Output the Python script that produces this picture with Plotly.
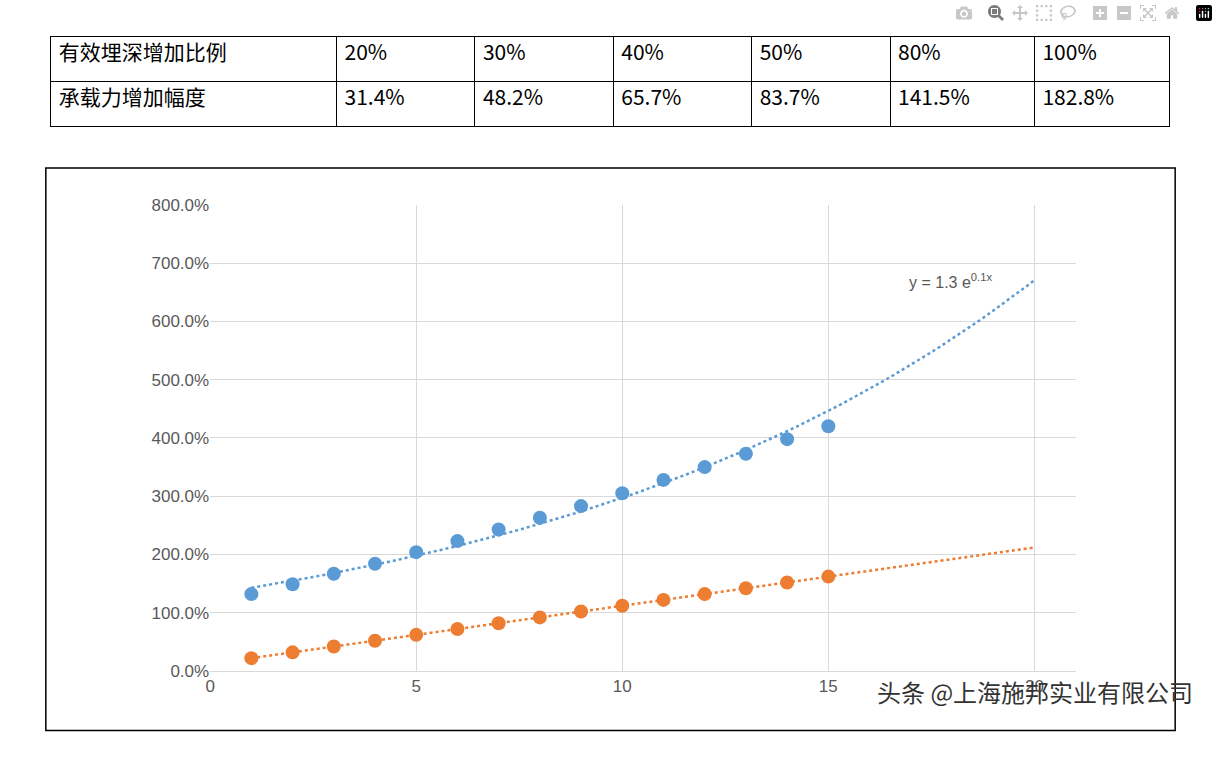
import numpy as np
import plotly.graph_objects as go

row_head = ["有效埋深增加比例", "20%", "30%", "40%", "50%", "80%", "100%"]
row_vals = ["承载力增加幅度", "31.4%", "48.2%", "65.7%", "83.7%", "141.5%", "182.8%"]

x = list(range(1, 16))
blue = [1.32, 1.49, 1.67, 1.84, 2.04, 2.23, 2.43, 2.63, 2.83, 3.05, 3.28, 3.50, 3.73, 3.98, 4.20]
orange = [0.22, 0.32, 0.42, 0.52, 0.62, 0.72, 0.82, 0.92, 1.02, 1.12, 1.22, 1.32, 1.42, 1.52, 1.62]

W, H = 1218, 758
BLUE, ORANGE = "#5B9BD5", "#ED7D31"

fig = go.Figure()

fig.add_trace(go.Table(
    domain=dict(x=[46 / W, 1170 / W], y=[1 - 122 / H, 1 - 28 / H]),
    columnwidth=[287, 139, 139, 139, 139, 145, 136],
    header=dict(values=row_head, fill_color="white", line_color="black", align="left",
                height=45, font=dict(size=21, color="black", family="Noto Sans CJK SC")),
    cells=dict(values=[[v] for v in row_vals], fill_color="white", line_color="black", align="left",
               height=45, font=dict(size=21, color="black", family="Noto Sans CJK SC")),
))

# trendlines fitted from the points
xt = np.linspace(1, 20, 100)
b, a = np.polyfit(x, np.log(blue), 1)
m, c = np.polyfit(x, orange, 1)
fig.add_trace(go.Scatter(x=xt, y=np.exp(a) * np.exp(b * xt), mode="lines",
                         line=dict(color=BLUE, width=2.5, dash="dot"), hoverinfo="skip"))
fig.add_trace(go.Scatter(x=xt, y=m * xt + c, mode="lines",
                         line=dict(color=ORANGE, width=2.5, dash="dot"), hoverinfo="skip"))
fig.add_trace(go.Scatter(x=x, y=blue, mode="markers", marker=dict(color=BLUE, size=14)))
fig.add_trace(go.Scatter(x=x, y=orange, mode="markers", marker=dict(color=ORANGE, size=14)))

fig.update_layout(
    width=W, height=H, margin=dict(l=0, r=0, t=0, b=0),
    paper_bgcolor="white", plot_bgcolor="white", showlegend=False,
    font=dict(family="Liberation Sans", size=17, color="#595959"),
    xaxis=dict(domain=[206 / W, 1075 / W], range=[0, 21], tickvals=[0, 5, 10, 15, 20],
               showgrid=True, gridcolor="#D9D9D9", zeroline=False, showline=True,
               linecolor="#D9D9D9", ticks="", ticklen=0),
    yaxis=dict(domain=[1 - 679 / H, 1 - 201 / H], range=[0, 8], dtick=1, tickformat=".1%",
               showgrid=True, gridcolor="#D9D9D9", zeroline=False, ticks="", ticklen=0),
    shapes=[dict(type="rect", xref="paper", yref="paper", x0=41 / W, x1=1175 / W,
                 y0=1 - 740 / H, y1=1 - 163 / H, line=dict(color="black", width=1.5))],
    annotations=[
        dict(x=16.9, y=6.7, text="y = 1.3 e<sup>0.1x</sup>", showarrow=False,
             xanchor="left", font=dict(size=16, color="#595959")),
        dict(x=1195 / W, y=1 - 720 / H, xref="paper", yref="paper", xanchor="right",
             text="头条 @上海施邦实业有限公司", showarrow=False,
             font=dict(size=24, color="#333333", family="Noto Sans CJK SC")),
    ],
)

fig.write_html("out.html", post_script="document.body.style.margin='0';")
